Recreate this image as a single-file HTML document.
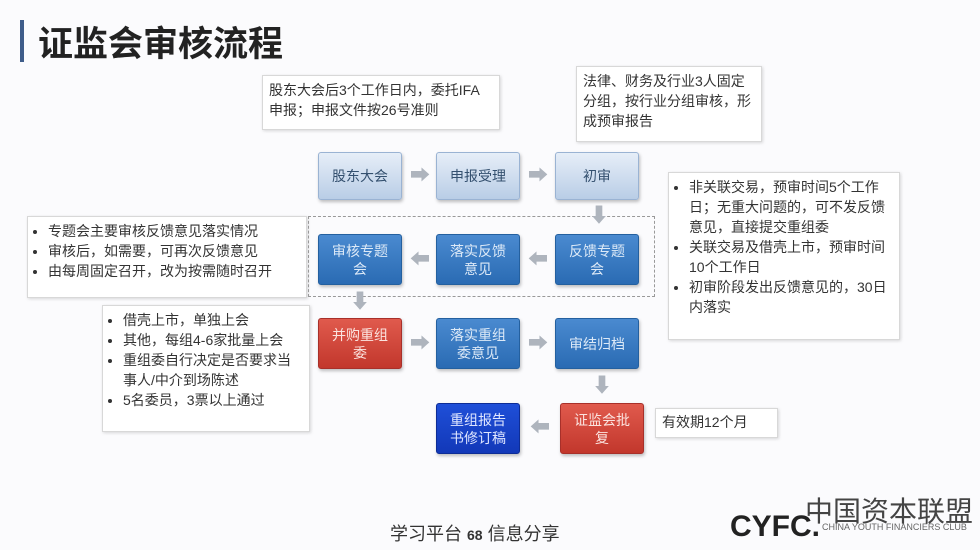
<!DOCTYPE html>
<html><head><meta charset="utf-8"><style>
body{margin:0;width:980px;height:550px;background:#fbfbfd;position:relative;overflow:hidden;font-family:"Liberation Sans","Noto Sans CJK SC",sans-serif;}
.a{position:absolute;box-sizing:border-box;}
.c{background:#fff;border:1px solid #d8d8d8;box-shadow:1px 1px 3px rgba(0,0,0,.15);font-size:14px;color:#333;line-height:20px;padding:4px 6px;}
.n{display:flex;align-items:center;justify-content:center;text-align:center;font-size:14px;line-height:18px;border-radius:3px;box-shadow:1px 2px 3px rgba(0,0,0,.25);}
.l{background:linear-gradient(#e6eef8,#b9cde6);border:1px solid #9ab3d3;color:#34506f;}
.d{background:linear-gradient(#4a8ad0,#2a6bb3);border:1px solid #24609f;color:#dce9f7;}
.r{background:linear-gradient(#e05a4d,#c2372c);border:1px solid #a8302a;color:#fbe3df;}
.b{background:linear-gradient(#1f4fd8,#1238b8);border:1px solid #0d2c96;color:#dfe6ff;}
.ar{color:#aeb4bd;font-size:20px;position:absolute;line-height:20px;}
ul{margin:0;padding-left:14px;}
</style></head><body>
<div class="a" style="left:20px;top:20px;width:4px;height:42px;background:#3f5d8a"></div>
<div class="a" style="left:38px;top:16px;font-size:35px;font-weight:bold;color:#222">证监会审核流程</div>

<div class="a c" style="left:262px;top:75px;width:238px;height:55px">股东大会后3个工作日内，委托IFA申报；申报文件按26号准则</div>
<div class="a c" style="left:576px;top:66px;width:186px;height:76px">法律、财务及行业3人固定分组，按行业分组审核，形成预审报告</div>
<div class="a c" style="left:668px;top:172px;width:232px;height:168px"><ul><li>非关联交易，预审时间5个工作日；无重大问题的，可不发反馈意见，直接提交重组委</li><li>关联交易及借壳上市，预审时间10个工作日</li><li>初审阶段发出反馈意见的，30日内落实</li></ul></div>
<div class="a c" style="left:27px;top:216px;width:280px;height:82px"><ul><li>专题会主要审核反馈意见落实情况</li><li>审核后，如需要，可再次反馈意见</li><li>由每周固定召开，改为按需随时召开</li></ul></div>
<div class="a c" style="left:102px;top:305px;width:208px;height:127px"><ul><li>借壳上市，单独上会</li><li>其他，每组4-6家批量上会</li><li>重组委自行决定是否要求当事人/中介到场陈述</li><li>5名委员，3票以上通过</li></ul></div>
<div class="a c" style="left:655px;top:408px;width:123px;height:30px;padding-top:3px">有效期12个月</div>

<div class="a" style="left:308px;top:216px;width:347px;height:81px;border:1px dashed #999"></div>

<div class="a n l" style="left:318px;top:152px;width:84px;height:48px">股东大会</div>
<div class="a n l" style="left:436px;top:152px;width:84px;height:48px">申报受理</div>
<div class="a n l" style="left:555px;top:152px;width:84px;height:48px">初审</div>
<div class="a n d" style="left:318px;top:234px;width:84px;height:51px">审核专题<br>会</div>
<div class="a n d" style="left:436px;top:234px;width:84px;height:51px">落实反馈<br>意见</div>
<div class="a n d" style="left:555px;top:234px;width:84px;height:51px">反馈专题<br>会</div>
<div class="a n r" style="left:318px;top:318px;width:84px;height:51px">并购重组<br>委</div>
<div class="a n d" style="left:436px;top:318px;width:84px;height:51px">落实重组<br>委意见</div>
<div class="a n d" style="left:555px;top:318px;width:84px;height:51px">审结归档</div>
<div class="a n b" style="left:436px;top:403px;width:84px;height:51px">重组报告<br>书修订稿</div>
<div class="a n r" style="left:560px;top:403px;width:84px;height:51px">证监会批<br>复</div>

<div class="ar" style="left:410px;top:166px">➡</div>
<div class="ar" style="left:528px;top:166px">➡</div>
<div class="ar" style="left:589px;top:206px">⬇</div>
<div class="ar" style="left:528px;top:250px">⬅</div>
<div class="ar" style="left:410px;top:250px">⬅</div>
<div class="ar" style="left:350px;top:292px">⬇</div>
<div class="ar" style="left:410px;top:334px">➡</div>
<div class="ar" style="left:528px;top:334px">➡</div>
<div class="ar" style="left:592px;top:376px">⬇</div>
<div class="ar" style="left:530px;top:418px">⬅</div>

<div class="a" style="left:390px;top:520px;font-size:18px;color:#333">学习平台 <b style="font-size:14px">68</b> 信息分享</div>
<div class="a" style="left:805px;top:490px;font-size:28px;color:#444">中国资本联盟</div>
<div class="a" style="left:730px;top:510px;font-size:30px;font-weight:bold;color:#222">CYFC.</div>
<div class="a" style="left:822px;top:522px;font-size:9px;color:#666">CHINA YOUTH FINANCIERS CLUB</div>
</body></html>
